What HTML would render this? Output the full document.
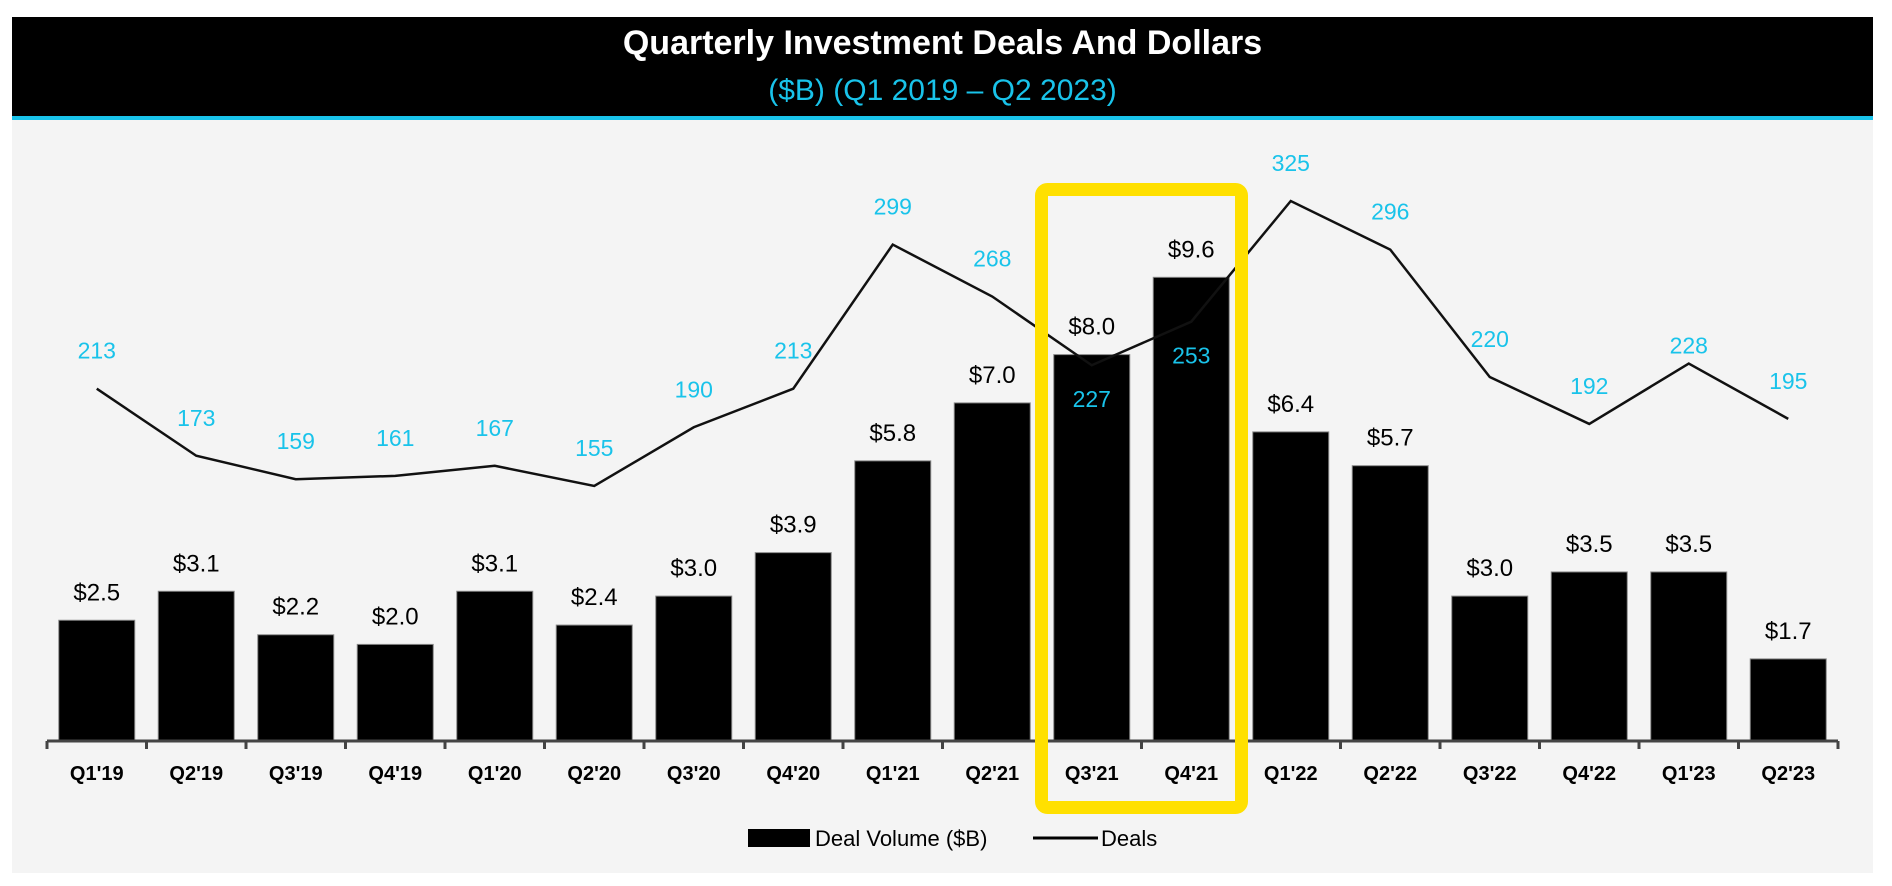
<!DOCTYPE html>
<html><head><meta charset="utf-8"><style>
html,body{margin:0;padding:0;background:#fff;}
body{width:1892px;height:886px;position:relative;overflow:hidden;font-family:"Liberation Sans",sans-serif;}
</style></head><body>
<div style="position:absolute;left:12px;top:119px;width:1861px;height:754px;background:#f4f4f4"></div>
<div style="position:absolute;left:12px;top:17px;width:1861px;height:99px;background:#000;border-bottom:4px solid #19c3ea"></div>
<div style="position:absolute;left:12px;width:1861px;top:24px;text-align:center;color:#fff;font-weight:bold;font-size:34px">Quarterly Investment Deals And Dollars</div>
<div style="position:absolute;left:12px;width:1861px;top:74px;text-align:center;color:#19c3ea;font-size:30px">($B) (Q1 2019 – Q2 2023)</div>
<svg id="chart" width="1892" height="886" style="position:absolute;left:0;top:0"></svg>
<script>
const categories=["Q1'19","Q2'19","Q3'19","Q4'19","Q1'20","Q2'20","Q3'20","Q4'20","Q1'21","Q2'21","Q3'21","Q4'21","Q1'22","Q2'22","Q3'22","Q4'22","Q1'23","Q2'23"];
const volumes=[2.5,3.1,2.2,2.0,3.1,2.4,3.0,3.9,5.8,7.0,8.0,9.6,6.4,5.7,3.0,3.5,3.5,1.7];
const deals=[213,173,159,161,167,155,190,213,299,268,227,253,325,296,220,192,228,195];
const svg=document.getElementById('chart');
const NS='http://www.w3.org/2000/svg';
const x0=47,step=99.5,base=741;
function xc(i){return x0+step*(i+0.5);}
function yv(v){return base-v*48.3;}
function yd(d){return 201+(325-d)*1.676;}
function mk(tag,attrs,text){const e=document.createElementNS(NS,tag);for(const k in attrs)e.setAttribute(k,attrs[k]);if(text!==undefined)e.textContent=text;svg.appendChild(e);return e;}
const bw=76;
volumes.forEach((v,i)=>{
 const r=mk('rect',{x:xc(i)-bw/2,y:yv(v),width:bw,height:base-yv(v),fill:'#000',stroke:'#888','stroke-width':1});
 
 
 const t=mk('text',{x:xc(i),y:yv(v)-20,'text-anchor':'middle','font-size':24,fill:'#000'},'$'+v.toFixed(1));
 
 
 const c=mk('text',{x:xc(i),y:780,'text-anchor':'middle','font-size':20,'font-weight':'bold',fill:'#000'},categories[i]);
 
 
});
const ax=mk('line',{x1:x0,x2:x0+step*18,y1:base,y2:base,stroke:'#444','stroke-width':3});


for(let i=0;i<=18;i++){const tk=mk('line',{x1:x0+step*i,x2:x0+step*i,y1:base,y2:base+8,stroke:'#444','stroke-width':3});
 
 }
const pl=mk('polyline',{points:deals.map((d,i)=>xc(i)+','+yd(d)).join(' '),fill:'none',stroke:'#111','stroke-width':2.5});


deals.forEach((d,i)=>{
 let dy=-30;
 if(i===10||i===11)dy=42;
 if(i===16)dy=-10;
 const t=mk('text',{x:xc(i),y:yd(d)+dy,'text-anchor':'middle','font-size':23,fill:'#19c3ea'},d);
 
 
});
const hb=mk('rect',{x:1041.5,y:189.5,width:200,height:618,rx:6,fill:'none',stroke:'#ffe000','stroke-width':13});


const lr=mk('rect',{x:748,y:829,width:62,height:18,fill:'#000'});


const lt=mk('text',{x:815,y:846,'font-size':22,fill:'#000'},'Deal Volume ($B)');


const ll=mk('line',{x1:1033,x2:1098,y1:838,y2:838,stroke:'#000','stroke-width':3});


const lt2=mk('text',{x:1101,y:846,'font-size':22,fill:'#000'},'Deals');


</script>
</body></html>
